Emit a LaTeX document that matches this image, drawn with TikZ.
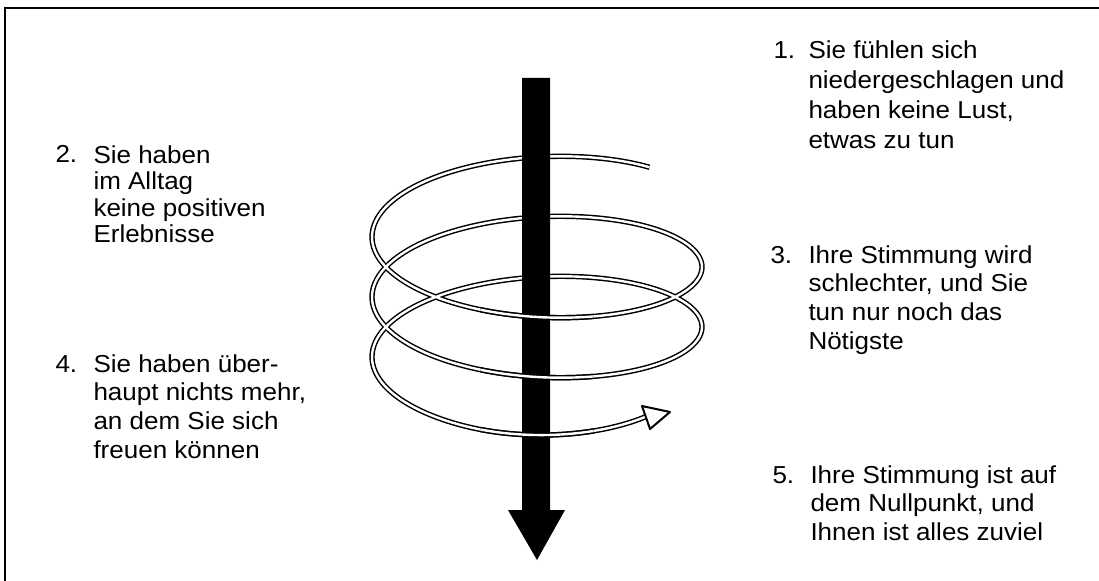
\documentclass[tikz,border=0pt]{standalone}
\usepackage{fontspec}
\setmainfont{Liberation Sans}[FakeStretch=1.06]

\tikzset{every picture/.style={line width=0.75pt}}
\tikzset{
  tube/.style={draw=black,line width=1.1pt,double=white,double distance=1.8pt},
  itemtxt/.style={anchor=base west,inner sep=0pt,align=left,font=\fontsize{18.4}{21.6}\selectfont},
}

\begin{document}
\begin{tikzpicture}[x=0.75pt,y=0.75pt,yscale=-1,xscale=1]
\useasboundingbox (0,0) rectangle (1099,581);

% Frame
\draw [line width=1.5] (1099,8) -- (5,8) -- (5,581) ;

% Spiral
\draw [tube] plot [variable=\t,domain=47:1031,samples=400] ({537+165*cos(\t)},{222+(\t-90)/6-65*sin(\t)-11*(max(\t-960,0)/71)^2}) ;
% Spiral end
\draw [fill=white,line width=1.5,line join=round] (642,406) -- (670,412) -- (650,429) -- cycle ;

% Down arrow
\fill [black] (522,78) -- (550,78) -- (550,510) -- (565,510) -- (537,560) -- (508,510) -- (522,510) -- cycle ;

% Spiral in front of the arrow
\foreach \a/\b in {250/290,610/650,970/1010} {
  \draw [tube] plot [variable=\t,domain=\a:\b,samples=30] ({537+165*cos(\t)},{222+(\t-90)/6-65*sin(\t)-11*(max(\t-960,0)/71)^2}) ;
}

% Text Node (base anchor = last line)
\draw (773,59) node [itemtxt] (n1) {1.};
\draw (808,148.2) node [itemtxt,font=\fontsize{18.4}{22.3}\selectfont] (t1) {Sie fühlen sich\\niedergeschlagen und\\haben keine Lust,\\etwas zu tun};
% Text Node
\draw (55,163) node [itemtxt] (n2) {2.};
\draw (93,242.6) node [itemtxt,font=\fontsize{18.4}{19.9}\selectfont] (t2) {Sie haben\\im Alltag\\keine positiven\\Erlebnisse};
% Text Node
\draw (770,263) node [itemtxt] (n3) {3.};
\draw (808,349.4) node [itemtxt] (t3) {Ihre Stimmung wird\\schlechter, und Sie\\tun nur noch das\\Nötigste};
% Text Node
\draw (55,372) node [itemtxt] (n4) {4.};
\draw (93,458.4) node [itemtxt] (t4) {Sie haben über-\\haupt nichts mehr,\\an dem Sie sich\\freuen können};
% Text Node
\draw (772,483) node [itemtxt] (n5) {5.};
\draw (810,540.6) node [itemtxt] (t5) {Ihre Stimmung ist auf\\dem Nullpunkt, und\\Ihnen ist alles zuviel};

\end{tikzpicture}
\end{document}
